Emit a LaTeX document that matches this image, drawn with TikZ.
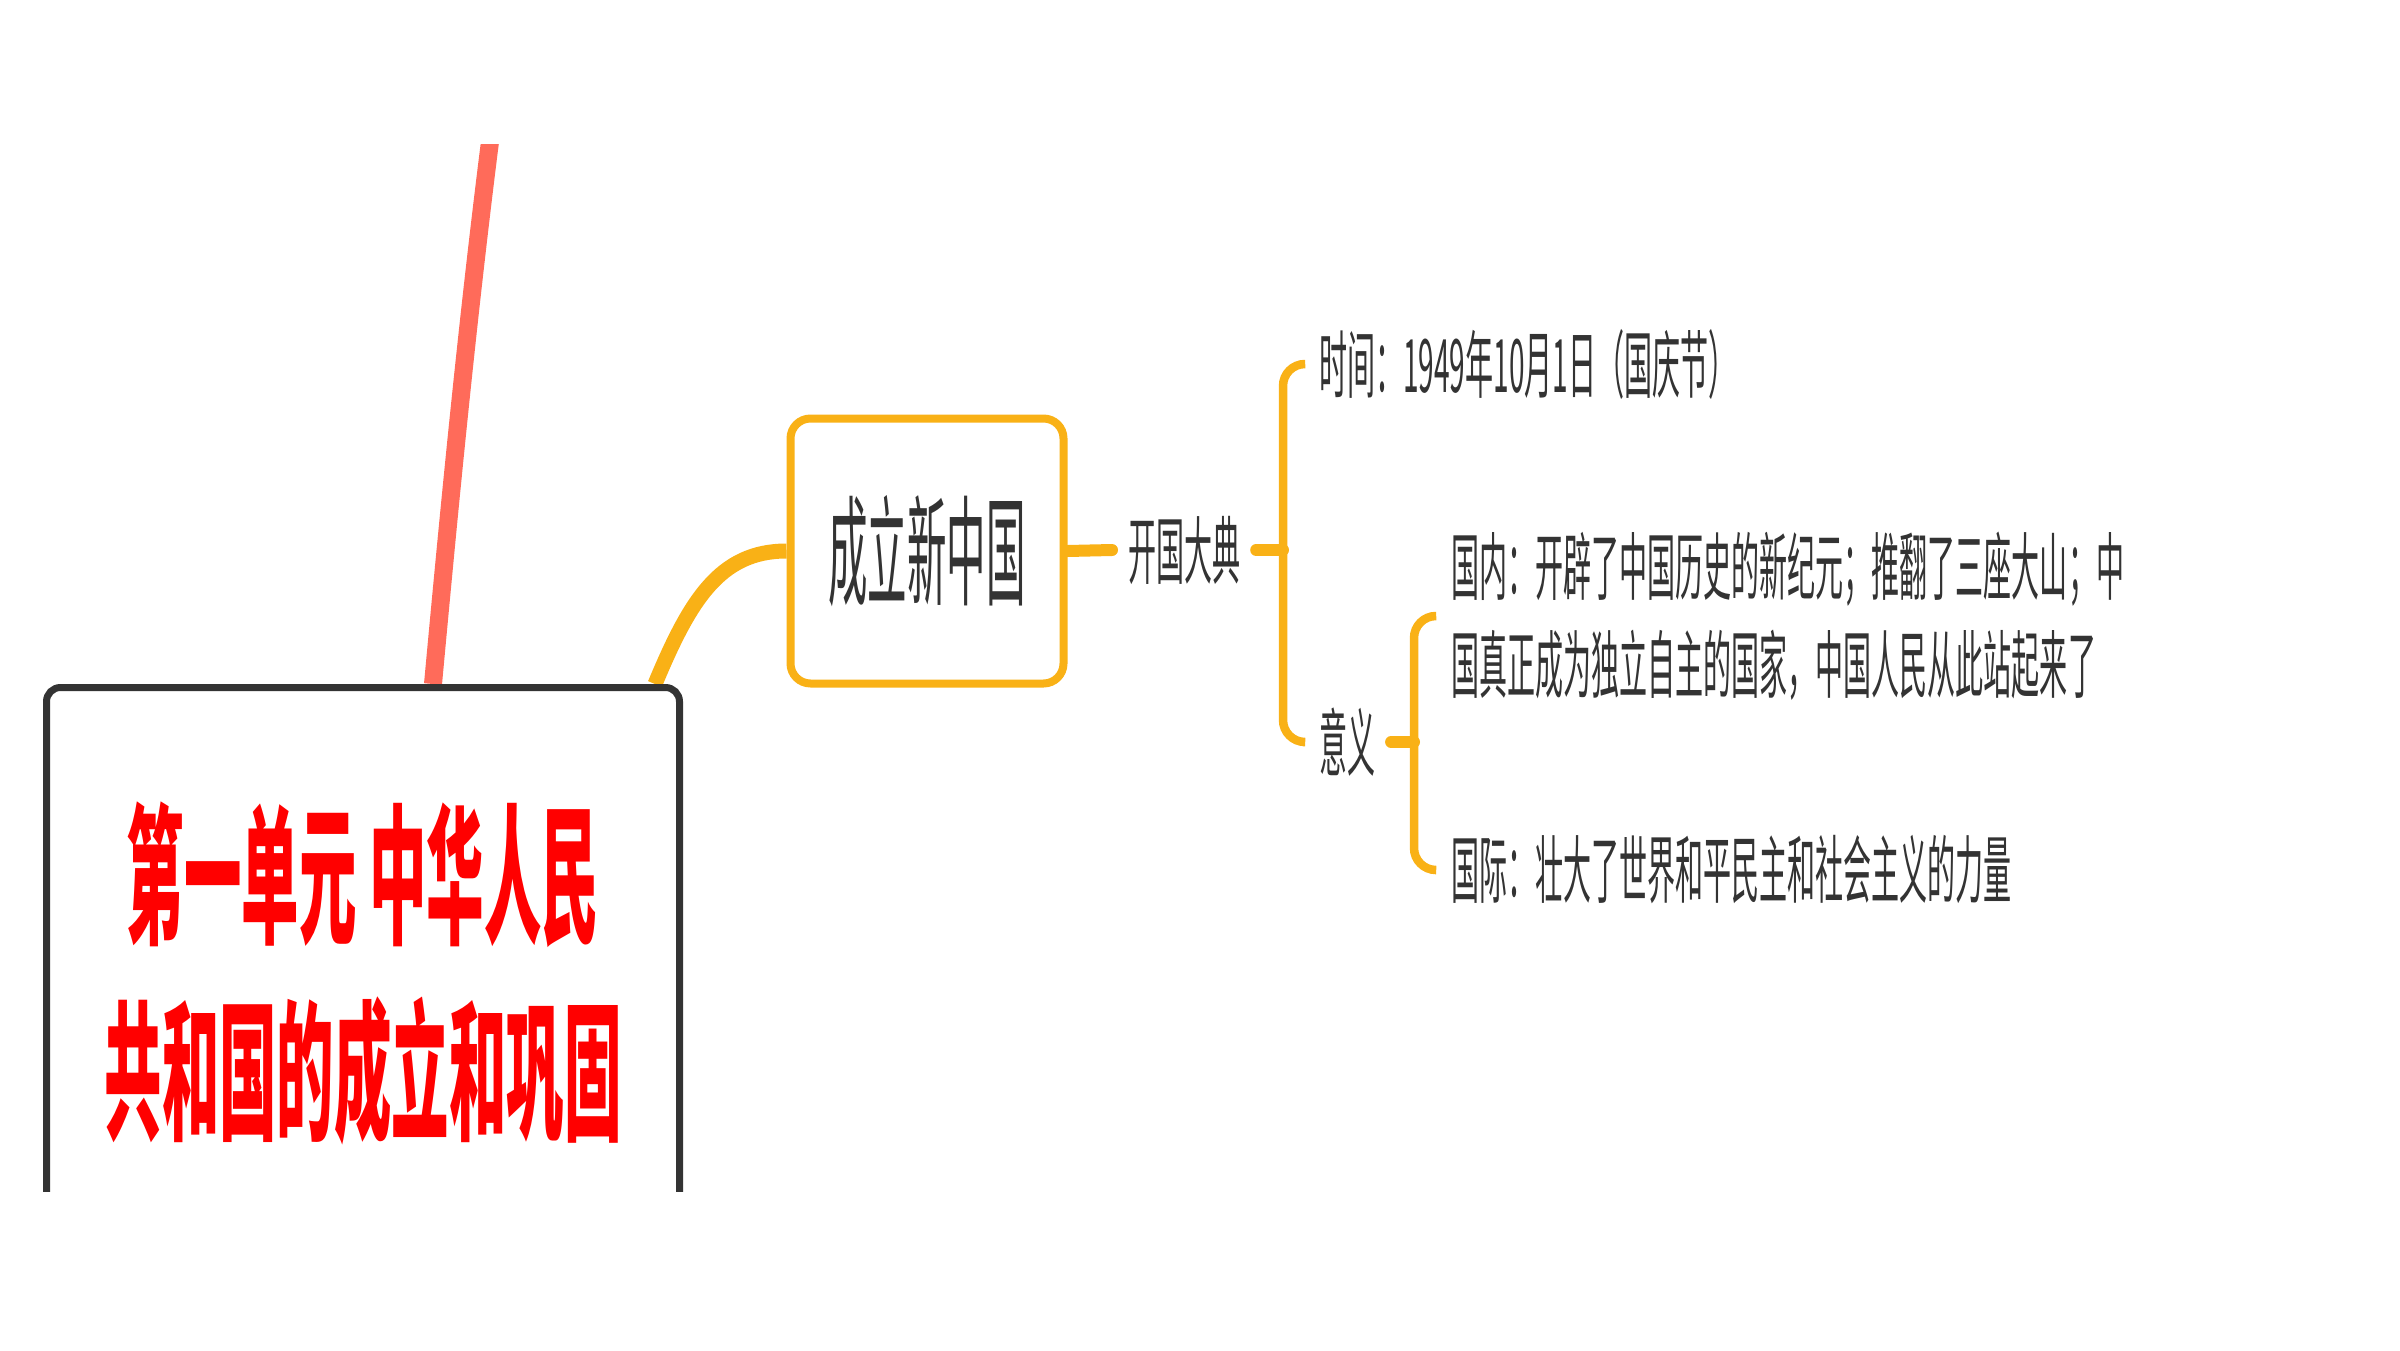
\documentclass[tikz,border=0pt]{standalone}
\usepackage{fontspec}
\newfontfamily\cjk[FakeStretch=0.38]{Noto Sans CJK SC}
\newfontfamily\cjktight[FakeStretch=0.33]{Noto Sans CJK SC}
\usetikzlibrary{calc,backgrounds}
\definecolor{mmorange}{HTML}{F9B116}
\definecolor{mmred}{HTML}{FF6B5A}
\definecolor{rootgray}{HTML}{333333}
\definecolor{txtgray}{HTML}{333333}
\definecolor{titlered}{HTML}{FF0000}
\tikzset{
  rootbox/.style={draw=rootgray, line width=0.7mm, rounded corners=1.4mm, fill=white,
    minimum width=63.3mm, minimum height=57.1mm, align=center, text=titlered,
    font=\cjk\bfseries\fontsize{43}{55.8}\selectfont},
  topicbox/.style={draw=mmorange, line width=0.8mm, rounded corners=2mm, fill=white,
    minimum width=27.3mm, minimum height=26.5mm, text=txtgray,
    font=\cjktight\fontsize{34}{40}\selectfont},
  leaf/.style={text=txtgray, inner sep=0.4mm, outer sep=1.2mm, align=left, anchor=west,
    font=\cjk\fontsize{21}{27.9}\selectfont},
  trunk/.style={draw=mmorange, line width=1.5mm},
  redtrunk/.style={draw=mmred, line width=1.8mm},
  branch/.style={draw=mmorange, line width=1.2mm, line cap=round},
  bracket/.style={draw=mmorange, line width=0.85mm, rounded corners=2.2mm}
}
\begin{document}
\begin{tikzpicture}[x=0.1mm, y=-0.1mm]
\useasboundingbox (0,0) rectangle (2400,1350);
\begin{scope}
\clip (0,145) rectangle (2400,1191);
\node[rootbox] (root) at (363,973) {第一单元 中华人民\\共和国的成立和巩固};
\end{scope}
\node[topicbox] (newcn) at (927,551) {成立新中国};
\node[leaf] (kaiguo) at (1112,550) {开国大典};
\coordinate (fork1) at (1283,550);
\node[leaf] (shijian) at (1303,364) {时间：1949年10月1日（国庆节）};
\node[leaf] (yiyi) at (1303,742) {意义};
\coordinate (fork2) at (1414,742);
\node[leaf] (guonei) at (1435,616) {国内：开辟了中国历史的新纪元；推翻了三座大山；中\\国真正成为独立自主的国家，中国人民从此站起来了};
\node[leaf] (guoji) at (1435,870) {国际：壮大了世界和平民主和社会主义的力量};
\coordinate (up) at (498,80);
\begin{scope}[on background layer]
\clip (0,145) rectangle (2400,1191);
\draw[redtrunk] ($(root.north)+(70,0)$) .. controls (450,500) and (470,290) .. (up);
\draw[trunk] ($(root.north)+(292,0)$) .. controls (690,600) and (720,551) .. (newcn.west);
\end{scope}
\draw[branch] (newcn.east) -- (kaiguo.west);
\draw[branch] (kaiguo.east) -- (fork1);
\draw[bracket] (shijian.west) -| (fork1) |- (yiyi.west);
\draw[branch] (yiyi.east) -- (fork2);
\draw[bracket] (guonei.west) -| (fork2) |- (guoji.west);
\end{tikzpicture}
\end{document}
